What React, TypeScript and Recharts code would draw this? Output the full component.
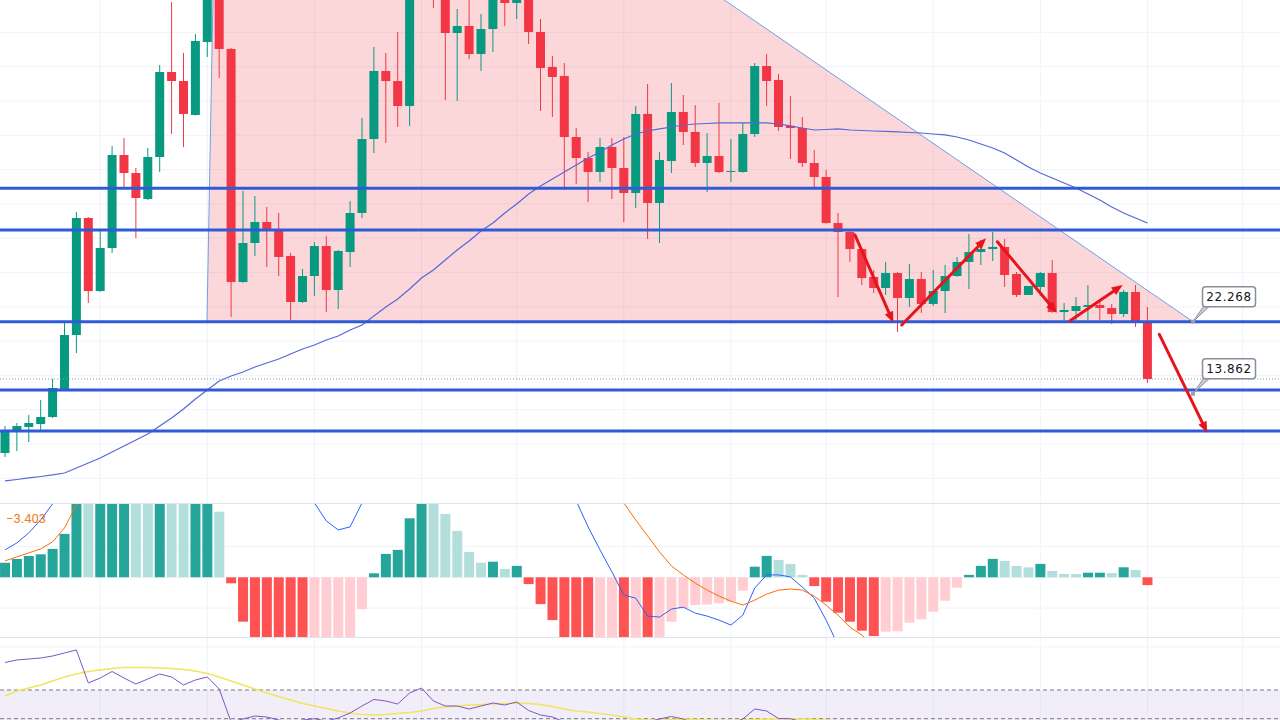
import React from "react";
import {
  ComposedChart,
  Bar,
  Line,
  Area,
  XAxis,
  YAxis,
  CartesianGrid,
  ReferenceLine,
  ReferenceDot,
  ReferenceArea,
  Cell,
} from "recharts";

// candles, one per session
const opens = [
  6.95, 9.52, 9.98, 10.33, 11.15, 14.41, 20.71, 34.36, 25.84, 30.86,
  41.7, 39.6, 36.57, 41.47, 51.38, 50.33, 46.37, 54.88, 60.95, 54.07,
  26.89, 31.44, 33.89, 32.84, 29.93, 24.56, 27.59, 31.09, 25.96, 30.39,
  34.94, 43.57, 51.5, 50.33, 47.42, 60.95, 63.86, 60.36, 55.93, 56.75,
  53.48, 56.4, 60.36, 59.43, 60.36, 56.05, 51.97, 50.92, 43.8, 41.35,
  39.72, 42.64, 40.19, 37.27, 46.49, 36.11, 41.0, 46.72, 44.39, 40.77,
  41.59, 39.72, 39.72, 44.15, 52.08, 50.45, 45.09, 44.85, 40.77, 39.14,
  33.77, 32.72, 30.74, 27.48, 26.19, 27.94, 25.03, 27.24, 24.33, 25.84,
  27.59, 29.23, 30.39, 30.74, 30.98, 27.83, 25.38, 26.31, 27.94, 23.39,
  23.51, 23.98, 24.21, 23.86, 23.16, 25.73, 22.34,
];
const highs = [
  10.1, 10.45, 11.38, 13.13, 15.58, 22.23, 35.06, 34.47, 33.07, 42.75,
  43.69, 40.19, 42.52, 52.2, 59.55, 53.6, 55.81, 62.7, 62.11, 54.18,
  37.51, 36.92, 35.64, 34.94, 30.28, 28.41, 31.56, 32.26, 30.63, 36.34,
  46.02, 54.3, 53.6, 56.05, 62.11, 65.61, 65.03, 61.53, 58.73, 60.36,
  58.15, 61.53, 61.53, 61.53, 61.53, 57.56, 53.25, 52.43, 44.85, 42.05,
  43.69, 43.69, 43.8, 47.42, 49.98, 42.05, 50.1, 48.7, 47.53, 44.27,
  47.77, 43.57, 45.44, 52.43, 53.48, 51.15, 48.58, 46.14, 42.29, 39.95,
  34.94, 32.96, 30.86, 28.29, 29.23, 28.06, 28.99, 28.06, 28.29, 28.88,
  29.81, 32.49, 31.79, 32.72, 31.91, 28.06, 26.43, 28.06, 29.46, 24.44,
  25.14, 26.54, 24.56, 24.33, 25.96, 26.54, 23.98,
];
const lows = [
  6.48, 7.18, 8.23, 9.63, 11.03, 14.3, 18.61, 24.44, 25.75, 30.28,
  37.97, 32.02, 36.45, 39.72, 44.15, 42.64, 46.3, 53.13, 50.68, 22.81,
  26.8, 29.93, 28.64, 27.59, 22.11, 24.44, 25.26, 23.39, 23.74, 28.64,
  34.36, 41.94, 43.1, 44.97, 45.09, 60.13, 58.85, 48.12, 48.0, 52.9,
  51.5, 53.72, 56.75, 57.56, 54.65, 46.84, 46.14, 37.62, 38.32, 36.22,
  38.56, 36.57, 33.89, 35.52, 31.91, 31.44, 39.6, 42.87, 40.3, 37.39,
  39.6, 38.56, 39.65, 43.8, 47.42, 44.5, 41.24, 40.3, 37.97, 33.7,
  25.14, 29.23, 26.54, 25.61, 25.38, 21.06, 23.98, 23.28, 24.09, 23.28,
  27.5, 26.08, 28.88, 29.34, 26.31, 25.14, 25.38, 25.26, 23.3, 22.46,
  22.46, 22.34, 22.46, 21.99, 22.81, 21.65, 15.12,
];
const closes = [
  9.63, 10.1, 10.45, 11.15, 14.53, 20.71, 34.36, 25.84, 30.86, 41.7,
  39.6, 36.69, 41.47, 51.38, 50.33, 46.49, 55.0, 61.53, 54.07, 26.89,
  31.44, 33.89, 32.84, 29.81, 24.56, 27.59, 31.09, 25.96, 30.51, 34.94,
  43.57, 51.5, 50.33, 47.42, 60.71, 64.44, 61.18, 55.93, 56.75, 53.48,
  56.4, 60.36, 59.43, 60.36, 56.05, 51.85, 50.8, 43.8, 41.35, 39.72,
  42.64, 40.19, 37.27, 46.49, 36.11, 41.12, 46.72, 44.39, 40.77, 41.59,
  39.72, 39.84, 44.15, 52.08, 50.33, 44.97, 44.85, 40.77, 39.14, 33.77,
  32.72, 30.74, 27.36, 26.19, 27.94, 25.03, 27.24, 24.33, 25.84, 27.59,
  29.23, 30.39, 30.74, 30.98, 27.71, 25.38, 26.43, 27.94, 23.39, 23.63,
  24.09, 24.21, 23.86, 23.16, 25.73, 22.23, 15.58,
];
const ma50 = [
  3.69, 3.86, 4.04, 4.21, 4.39, 4.62, 5.2, 5.79, 6.37, 7.07,
  7.77, 8.47, 9.17, 10.1, 11.03, 12.08, 13.25, 14.3, 15.35, 15.93,
  16.4, 16.98, 17.45, 17.91, 18.5, 19.08, 19.55, 20.13, 20.6, 21.3,
  21.88, 22.93, 23.98, 24.91, 26.08, 27.36, 28.29, 29.46, 30.63, 31.67,
  32.84, 33.77, 34.94, 35.99, 37.16, 38.09, 38.91, 39.72, 40.54, 41.35,
  42.05, 42.87, 43.57, 44.15, 44.5, 44.74, 44.97, 45.2, 45.32, 45.38,
  45.44, 45.44, 45.44, 45.44, 45.44, 45.32, 45.09, 44.85, 44.62, 44.68,
  44.74, 44.62, 44.56, 44.5, 44.45, 44.39, 44.33, 44.27, 44.15, 44.04,
  43.8, 43.45, 42.99, 42.52, 41.94, 41.12, 40.3, 39.6, 39.02, 38.44,
  37.86, 37.16, 36.46, 35.64, 34.94, 34.36, 33.77,
];

// MACD panel
const macdHist = [
  0.73, 0.92, 1.07, 1.15, 1.42, 2.17, 4.6, 4.4, 4.8, 5.3,
  5.5, 5.2, 4.9, 5.1, 4.8, 4.3, 4.5, 4.7, 3.28, -0.3,
  -2.22, -3.2, -3.5, -3.8, -4.0, -4.2, -4.0, -3.8, -3.5, -3.2,
  -1.6, 0.2, 1.17, 1.37, 2.95, 3.9, 3.8, 3.17, 2.32, 1.27,
  0.73, 0.78, 0.42, 0.57, -0.34, -1.34, -2.14, -3.2, -3.6, -3.9,
  -3.7, -3.3, -3.5, -3.2, -3.4, -3.1, -2.22, -1.55, -1.39, -1.36,
  -1.3, -1.22, -0.67, 0.53, 1.07, 0.87, 0.67, 0.12, -0.44, -1.22,
  -1.77, -2.22, -2.67, -2.94, -2.72, -2.7, -2.27, -2.1, -1.72, -1.17,
  -0.52, 0.12, 0.57, 0.92, 0.82, 0.57, 0.5, 0.67, 0.32, 0.17,
  0.16, 0.23, 0.23, 0.21, 0.5, 0.37, -0.39,
];
const macdLine = [
  1.37, 1.72, 2.22, 2.87, 3.67, 4.47, 5.47, 6.12, 6.62, 7.62,
  8.37, 8.87, 9.37, 10.12, 10.87, 11.12, 11.62, 11.87, 11.62, 10.62,
  8.87, 7.37, 6.12, 5.12, 4.37, 3.97, 3.72, 2.82, 2.37, 2.52,
  3.72, 4.87, 5.87, 6.62, 7.87, 9.12, 9.62, 9.87, 9.62, 9.37,
  8.87, 8.62, 8.37, 8.12, 7.37, 6.37, 5.37, 4.47, 3.82, 2.52,
  1.37, 0.27, -0.89, -1.04, -1.94, -1.99, -1.59, -1.49, -1.79, -1.94,
  -2.14, -2.39, -1.89, -0.54, 0.12, 0.12, 0.02, -0.49, -1.04, -2.14,
  -3.39, -4.39, -5.14, -5.89, -6.39, -6.74, -6.94, -7.04, -7.04, -6.94,
  -6.74, -6.44, -6.14, -5.94, -5.79, -5.74, -5.69, -5.64, -5.64, -5.64,
  -5.59, -5.54, -5.49, -5.44, -5.39, -5.39, -5.54,
];
const signalLine = [
  0.82, 1.02, 1.22, 1.42, 1.77, 2.47, 3.62, 4.72, 5.62, 6.37,
  7.12, 7.87, 8.62, 9.27, 9.87, 10.37, 10.77, 11.12, 11.37, 11.37,
  11.12, 10.77, 10.37, 9.97, 9.57, 9.22, 8.87, 8.57, 8.27, 8.07,
  7.87, 7.77, 7.77, 7.87, 7.97, 8.12, 8.27, 8.37, 8.37, 8.32,
  8.22, 8.07, 7.87, 7.62, 7.27, 6.87, 6.37, 5.87, 5.37, 4.87,
  4.47, 4.07, 3.72, 2.87, 2.07, 1.27, 0.57, 0.12, -0.29, -0.64,
  -0.94, -1.19, -1.39, -1.14, -0.84, -0.64, -0.59, -0.64, -0.94, -1.39,
  -1.89, -2.49, -2.89, -3.39, -3.89, -4.24, -4.54, -4.79, -4.99, -5.14,
  -5.24, -5.34, -5.39, -5.44, -5.49, -5.49, -5.54, -5.54, -5.54, -5.54,
  -5.54, -5.54, -5.54, -5.54, -5.54, -5.54, -5.59,
];

// RSI panel
const rsiLine = [
  89.17, 90.91, 91.61, 92.3, 93.7, 95.79, 97.88, 74.88, 78.36, 82.89,
  78.36, 74.18, 77.67, 81.15, 79.06, 73.49, 76.97, 79.06, 70.7, 47.7,
  49.79, 51.88, 51.18, 49.09, 47.0, 49.09, 50.0, 48.39, 50.48, 53.97,
  58.85, 63.38, 62.33, 60.24, 67.91, 71.39, 62.33, 58.85, 58.85, 56.76,
  58.85, 60.94, 59.55, 61.64, 55.71, 52.58, 51.18, 47.7, 44.91, 45.61,
  43.51, 42.12, 44.91, 46.3, 47.7, 49.79, 51.53, 49.79, 46.3, 43.51,
  42.12, 46.3, 49.79, 56.76, 55.37, 50.14, 50.0, 47.7, 43.51, 36.54,
  35.15, 33.76, 31.67, 30.97, 32.36, 30.97, 33.76, 32.36, 33.76, 36.54,
  38.64, 40.73, 41.42, 42.12, 37.94, 35.85, 37.24, 38.64, 34.45, 35.15,
  35.85, 35.85, 35.15, 34.45, 37.94, 34.45, 26.79,
];
const rsiMaLine = [
  65.82, 69.3, 71.39, 73.49, 76.27, 79.06, 81.15, 82.89, 83.94, 84.99,
  85.68, 85.68, 85.68, 85.33, 84.99, 84.29, 83.24, 81.5, 79.06, 76.27,
  73.49, 70.7, 67.91, 65.47, 63.03, 60.59, 58.85, 57.11, 55.37, 53.97,
  52.92, 52.58, 52.92, 53.62, 54.32, 55.37, 57.11, 58.15, 58.85, 59.55,
  59.89, 60.24, 60.59, 60.94, 60.59, 59.89, 58.5, 56.76, 55.37, 54.67,
  53.62, 52.58, 51.18, 49.79, 49.09, 49.09, 49.44, 49.79, 49.44, 49.09,
  48.74, 48.74, 49.09, 49.44, 49.79, 50.14, 50.0, 49.79, 49.44, 49.09,
  48.39, 47.0, 45.61, 44.21, 42.82, 41.42, 40.73, 40.03, 39.33, 38.64,
  38.29, 37.94, 37.94, 37.94, 37.59, 37.24, 37.24, 37.24, 36.89, 36.54,
  36.54, 36.19, 35.85, 35.5, 35.15, 34.45, 33.76,
];

// drawings
const supportLevels = [37.82, 32.96, 22.268, 14.3, 9.52];
const triangleBase = 22.268;
const triangle = [
  { i: 16.97, top: 22.268 },
  { i: 18.02, top: 100.2 },
  { i: 99.83, top: 22.268 },
];
const trendArrows = [
  { x1: 71.43, y1: 32.37, x2: 74.65, y2: 22.15 },
  { x1: 75.35, y1: 21.88, x2: 82.44, y2: 31.99 },
  { x1: 83.39, y1: 31.59, x2: 88.38, y2: 23.31 },
  { x1: 89.5, y1: 22.38, x2: 93.92, y2: 26.54 },
  { x1: 97.0, y1: 20.79, x2: 101.03, y2: 9.32 },
];
const priceTags = [
  { i: 99.83, price: 22.268, text: "22.268" },
  { i: 99.83, price: 13.862, text: "13.862" },
];
const timeGrid = [8, 17, 26, 35, 43, 52, 61, 69, 78, 87, 96, 104];
const priceGrid = [4, 8, 12, 16, 20, 24, 28, 32, 36, 40, 44, 48, 52, 56];
const macdGrid = [1.54, 0, -1.54];
const rsiGrid = [100];

const W = 1280;
const MAIN_H = 503;
const MACD_H = 134;
const RSI_H = 83;
const X_DOMAIN: [number, number] = [-0.42, 107.14];
const PRICE_DOMAIN: [number, number] = [1.12, 59.78];
const MACD_DOMAIN: [number, number] = [-2.985, 3.715];
const RSI_DOMAIN: [number, number] = [49.09, 106.94];

const UP = "#089981";
const DOWN = "#f23645";
const LEVEL_BLUE = "#2f5bd6";
const ARROW_RED = "#e8141c";
const GRID = "#f0f3fa";
const BODY_W = 9;
const NO_MARGIN = { top: 0, right: 0, bottom: 0, left: 0 };

const rows = closes.map((c, i) => ({
  i,
  o: opens[i],
  h: highs[i],
  l: lows[i],
  c,
  ma: ma50[i],
  hist: macdHist[i],
  macd: macdLine[i],
  signal: signalLine[i],
  rsi: rsiLine[i],
  rsiMa: rsiMaLine[i],
}));

const histColor = (v: number, i: number) => {
  const prev = i > 0 ? macdHist[i - 1] : 0;
  if (v >= 0) return v >= prev ? "#26a69a" : "#b2dfdb";
  return v < prev ? "#ff5252" : "#ffcdd2";
};

const Candle = (props: any) => {
  const { x, y, width, height, payload } = props;
  if (!payload || height == null || isNaN(height)) return null;
  const { o, h, l, c } = payload;
  const top0 = Math.min(y, y + height);
  const hh = Math.abs(height);
  const ppu = hh / (h - l);
  const yOf = (v: number) => top0 + (h - v) * ppu;
  const color = c >= o ? UP : DOWN;
  const cx = x + (width || 0) / 2;
  const bTop = yOf(Math.max(o, c));
  const bBot = yOf(Math.min(o, c));
  return (
    <g>
      <line x1={cx} x2={cx} y1={top0} y2={top0 + hh} stroke={color} strokeWidth={1} />
      <rect x={cx - BODY_W / 2} y={bTop} width={BODY_W} height={Math.max(1, bBot - bTop)} fill={color} />
    </g>
  );
};

const Arrow = (props: any) => {
  const { x1, y1, x2, y2 } = props;
  const dx = x2 - x1;
  const dy = y2 - y1;
  const len = Math.hypot(dx, dy) || 1;
  const ux = dx / len;
  const uy = dy / len;
  const head = 11;
  const half = 4.5;
  const bx = x2 - ux * head;
  const by = y2 - uy * head;
  return (
    <g>
      <line x1={x1} y1={y1} x2={bx} y2={by} stroke={ARROW_RED} strokeWidth={3} strokeLinecap="round" />
      <polygon
        points={`${x2},${y2} ${bx - uy * half},${by + ux * half} ${bx + uy * half},${by - ux * half}`}
        fill={ARROW_RED}
      />
    </g>
  );
};

const PriceTag = (props: any) => {
  const { cx, cy, text } = props;
  return (
    <g>
      <polygon
        points={`${cx},${cy} ${cx + 11},${cy - 16} ${cx + 17},${cy - 16}`}
        fill="#c9ccd3"
        stroke="#8a8e98"
        strokeWidth={1}
      />
      <rect x={cx - 2} y={cy - 2} width={4} height={4} fill="#9ba1ab" />
      <rect x={cx + 9.5} y={cy - 35} width={53} height={20} rx={3} fill="#ffffff" stroke="#8a8e98" strokeWidth={1.5} />
      <text
        x={cx + 36}
        y={cy - 20.5}
        textAnchor="middle"
        fontSize={12}
        fontFamily="'DejaVu Sans', sans-serif"
        letterSpacing={0.6}
        fill="#131722"
      >
        {text}
      </text>
    </g>
  );
};

function PriceChart() {
  return (
    <ComposedChart width={W} height={MAIN_H} data={rows} margin={NO_MARGIN}>
      <CartesianGrid stroke={GRID} verticalValues={timeGrid} horizontalValues={priceGrid} />
      <XAxis dataKey="i" type="number" domain={X_DOMAIN} ticks={timeGrid} interval={0} allowDataOverflow hide />
      <YAxis domain={PRICE_DOMAIN} ticks={priceGrid} interval={0} allowDataOverflow hide />
      <Area
        data={triangle}
        dataKey={(d: any) => [triangleBase, d.top]}
        type="linear"
        fill="rgba(242,54,69,0.2)"
        fillOpacity={1}
        stroke="#6f9fe6"
        strokeWidth={1}
        dot={false}
        activeDot={false}
        isAnimationActive={false}
      />
      <Line
        dataKey="ma"
        type="linear"
        stroke="#5468d8"
        strokeWidth={1.2}
        dot={false}
        activeDot={false}
        isAnimationActive={false}
      />
      <Bar dataKey={(d: any) => [d.l, d.h]} barSize={BODY_W} shape={<Candle />} isAnimationActive={false} />
      {supportLevels.map((lvl) => (
        <ReferenceLine key={lvl} y={lvl} stroke={LEVEL_BLUE} strokeWidth={3} />
      ))}
      <ReferenceLine y={closes[closes.length - 1]} stroke="#8f939c" strokeDasharray="1 2" />
      {trendArrows.map((a, k) => (
        <ReferenceLine
          key={`arrow-${k}`}
          segment={[
            { x: a.x1, y: a.y1 },
            { x: a.x2, y: a.y2 },
          ]}
          shape={(p: any) => <Arrow {...p} />}
        />
      ))}
      {priceTags.map((t) => (
        <ReferenceDot key={t.text} x={t.i} y={t.price} shape={(p: any) => <PriceTag {...p} text={t.text} />} />
      ))}
    </ComposedChart>
  );
}

function MacdChart() {
  return (
    <ComposedChart width={W} height={MACD_H} data={rows} margin={NO_MARGIN}>
      <CartesianGrid stroke={GRID} verticalValues={timeGrid} horizontalValues={macdGrid} />
      <XAxis dataKey="i" type="number" domain={X_DOMAIN} ticks={timeGrid} interval={0} allowDataOverflow hide />
      <YAxis domain={MACD_DOMAIN} ticks={macdGrid} interval={0} allowDataOverflow hide />
      <Bar dataKey="hist" barSize={10} isAnimationActive={false}>
        {rows.map((r, i) => (
          <Cell key={`h-${i}`} fill={histColor(r.hist, i)} />
        ))}
      </Bar>
      <Line dataKey="macd" type="linear" stroke="#2962ff" strokeWidth={1} dot={false} activeDot={false} isAnimationActive={false} />
      <Line dataKey="signal" type="linear" stroke="#ff6d00" strokeWidth={1} dot={false} activeDot={false} isAnimationActive={false} />
    </ComposedChart>
  );
}

function RsiChart() {
  return (
    <ComposedChart width={W} height={RSI_H} data={rows} margin={NO_MARGIN}>
      <CartesianGrid stroke={GRID} verticalValues={timeGrid} horizontalValues={rsiGrid} />
      <XAxis dataKey="i" type="number" domain={X_DOMAIN} ticks={timeGrid} interval={0} allowDataOverflow hide />
      <YAxis domain={RSI_DOMAIN} ticks={rsiGrid} interval={0} allowDataOverflow hide />
      <ReferenceArea y1={30} y2={70} fill="#7e57c2" fillOpacity={0.1} ifOverflow="hidden" />
      <ReferenceLine y={70} stroke="#787b86" strokeDasharray="4 3" />
      <ReferenceLine y={50} stroke="#787b86" strokeDasharray="4 3" />
      <Line dataKey="rsiMa" type="linear" stroke="#f2e45c" strokeWidth={1.4} dot={false} activeDot={false} isAnimationActive={false} />
      <Line dataKey="rsi" type="linear" stroke="#7e57c2" strokeWidth={1} dot={false} activeDot={false} isAnimationActive={false} />
    </ComposedChart>
  );
}

export default function App() {
  return (
    <div
      style={{
        position: "absolute",
        left: 0,
        top: 0,
        width: W,
        height: 720,
        background: "#ffffff",
        overflow: "hidden",
        fontFamily: "Roboto, sans-serif",
      }}
    >
      <div style={{ position: "absolute", left: 0, top: 0 }}>
        <PriceChart />
      </div>
      <div style={{ position: "absolute", left: 0, top: MAIN_H }}>
        <MacdChart />
      </div>
      <div style={{ position: "absolute", left: 0, top: MAIN_H + MACD_H }}>
        <RsiChart />
      </div>
      <div style={{ position: "absolute", left: 0, top: MAIN_H, width: W, height: 1, background: "#e0e3eb" }} />
      <div style={{ position: "absolute", left: 0, top: MAIN_H + MACD_H, width: W, height: 1, background: "#e0e3eb" }} />
      <div
        style={{
          position: "absolute",
          left: 6,
          top: 511,
          fontSize: 13,
          color: "#ef7f1a",
          fontFamily: "Roboto, sans-serif",
        }}
      >
        −3.403
      </div>
    </div>
  );
}
